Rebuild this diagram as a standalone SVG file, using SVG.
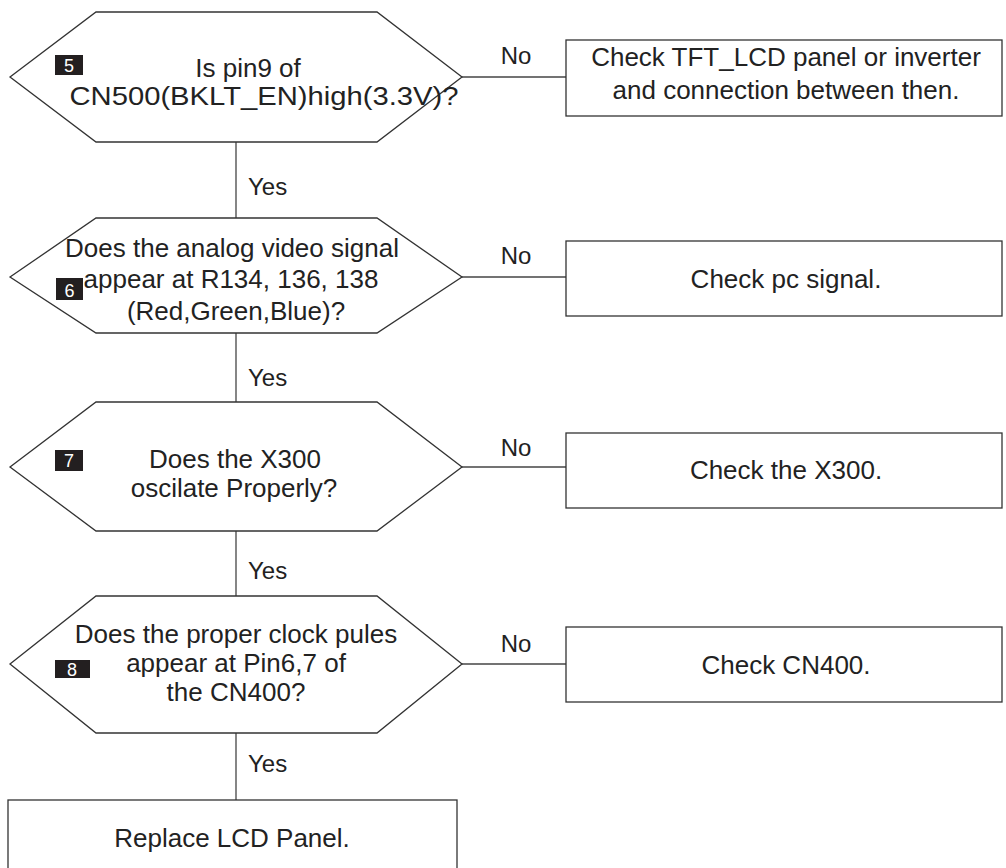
<svg xmlns="http://www.w3.org/2000/svg" width="1006" height="868" viewBox="0 0 1006 868">
<style>
.shape{fill:#fff;stroke:#333;stroke-width:1.3}
.line{fill:none;stroke:#444;stroke-width:1.3}
.t{font-family:"Liberation Sans",Arial,sans-serif;font-size:26px;fill:#222;text-anchor:middle}
.lbl{font-family:"Liberation Sans",Arial,sans-serif;font-size:24px;fill:#222}
.badge{fill:#231f20}
.bt{font-family:"Liberation Sans",Arial,sans-serif;font-size:18px;fill:#fff;text-anchor:middle}
</style>
<rect width="1006" height="868" fill="#fff"/>
<g id="connectors">
<line class="line" x1="236" y1="142" x2="236" y2="218"/>
<line class="line" x1="236" y1="333" x2="236" y2="402"/>
<line class="line" x1="236" y1="531" x2="236" y2="596"/>
<line class="line" x1="236" y1="733" x2="236" y2="800"/>
<line class="line" x1="462" y1="77" x2="566" y2="77"/>
<line class="line" x1="462" y1="277" x2="566" y2="277"/>
<line class="line" x1="462" y1="467" x2="566" y2="467"/>
<line class="line" x1="462" y1="664" x2="566" y2="664"/>
<text class="lbl" x="248" y="195">Yes</text>
<text class="lbl" x="248" y="386">Yes</text>
<text class="lbl" x="248" y="579">Yes</text>
<text class="lbl" x="248" y="772">Yes</text>
<text class="lbl" x="516" y="64" text-anchor="middle">No</text>
<text class="lbl" x="516" y="264" text-anchor="middle">No</text>
<text class="lbl" x="516" y="456" text-anchor="middle">No</text>
<text class="lbl" x="516" y="652" text-anchor="middle">No</text>
</g>
<g id="q5">
<polygon class="shape" points="10,77 96,12 377,12 462,77 377,142 96,142"/>
<rect class="badge" x="55" y="55" width="28" height="20"/>
<text class="bt" x="69" y="72">5</text>
<text class="t" x="248" y="77">Is pin9 of</text>
<text class="t" x="264" y="105" textLength="389" lengthAdjust="spacingAndGlyphs">CN500(BKLT_EN)high(3.3V)?</text>
</g>
<g id="q6">
<polygon class="shape" points="10,277 96,218 377,218 462,277 377,333 96,333"/>
<rect class="badge" x="56" y="278" width="27" height="22"/>
<text class="bt" x="69.5" y="297">6</text>
<text class="t" x="232" y="257">Does the analog video signal</text>
<text class="t" x="231" y="288">appear at R134, 136, 138</text>
<text class="t" x="236" y="320">(Red,Green,Blue)?</text>
</g>
<g id="q7">
<polygon class="shape" points="10,467 96,402 377,402 462,467 377,531 96,531"/>
<rect class="badge" x="55" y="450" width="28" height="21"/>
<text class="bt" x="69" y="467">7</text>
<text class="t" x="235" y="468">Does the X300</text>
<text class="t" x="234" y="497">oscilate Properly?</text>
</g>
<g id="q8">
<polygon class="shape" points="10,664 96,596 377,596 462,664 377,733 96,733"/>
<rect class="badge" x="55" y="660" width="35" height="18"/>
<text class="bt" x="72" y="676">8</text>
<text class="t" x="236" y="643">Does the proper clock pules</text>
<text class="t" x="236" y="672">appear at Pin6,7 of</text>
<text class="t" x="236" y="701">the CN400?</text>
</g>
<g id="a5">
<rect class="shape" x="566" y="40" width="436" height="76"/>
<text class="t" x="786" y="66">Check TFT_LCD panel or inverter</text>
<text class="t" x="786" y="99">and connection between then.</text>
</g>
<g id="a6">
<rect class="shape" x="566" y="241" width="436" height="75"/>
<text class="t" x="786" y="288">Check pc signal.</text>
</g>
<g id="a7">
<rect class="shape" x="566" y="433" width="436" height="75"/>
<text class="t" x="786" y="479">Check the X300.</text>
</g>
<g id="a8">
<rect class="shape" x="566" y="627" width="436" height="75"/>
<text class="t" x="786" y="674">Check CN400.</text>
</g>
<g id="end">
<rect class="shape" x="8" y="800" width="449" height="80"/>
<text class="t" x="232" y="847">Replace LCD Panel.</text>
</g>
</svg>
